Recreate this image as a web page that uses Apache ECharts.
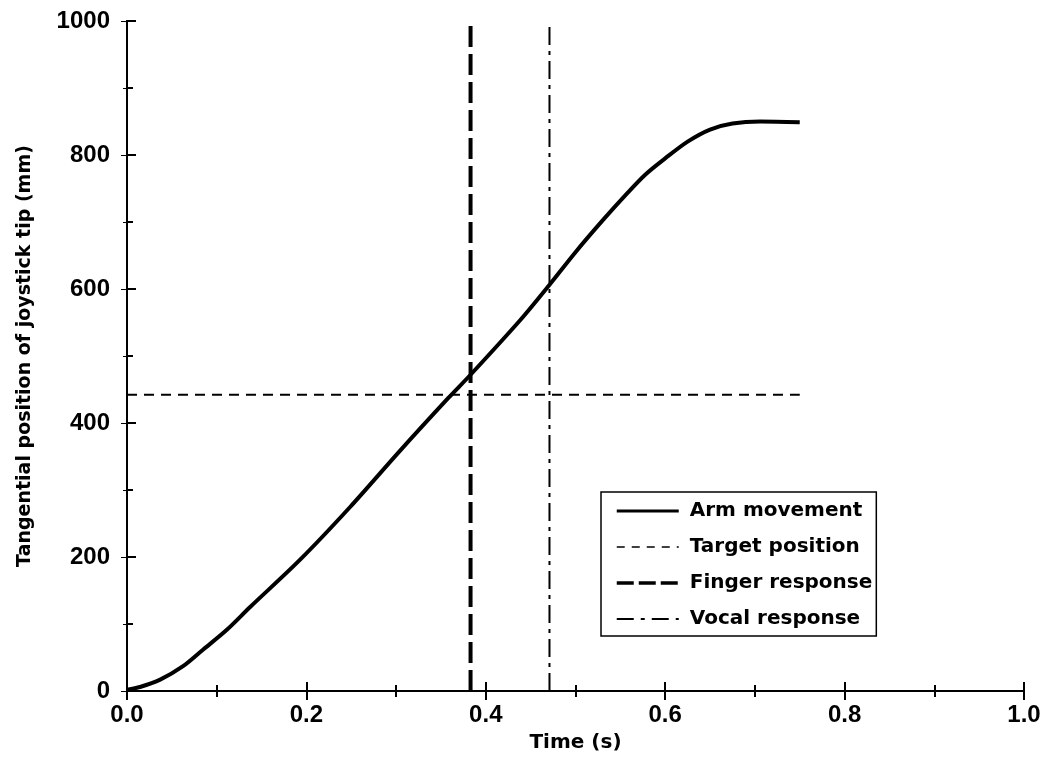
<!DOCTYPE html>
<html>
<head>
<meta charset="utf-8">
<script src="https://cdn.jsdelivr.net/npm/echarts@6/dist/echarts.min.js"></script>
<style>
  html, body { margin: 0; padding: 0; background: #ffffff; }
  #chart { width: 1047px; height: 758px; }
</style>
</head>
<body>
<div id="chart"></div>
<script>
// ---- data ----
const armTime = [0, 0.0145, 0.037, 0.0625, 0.085, 0.111, 0.137, 0.193, 0.249, 0.304, 0.358, 0.383, 0.438, 0.469, 0.50, 0.53, 0.557, 0.578, 0.60, 0.625, 0.65, 0.675, 0.706, 0.75];
const armPos  = [2, 6, 17, 37, 62, 91, 125, 196, 275, 358, 437, 472, 553, 603, 655, 702, 742, 771, 795, 820, 838, 847, 850, 849];
const targetTime = [0, 0.75];
const targetPos  = [442, 442];
const fingerTime = 0.383;
const vocalTime  = 0.471;
const lineSpan   = [0, 1000];
const xTickLabels = ['0.0', '0.2', '0.4', '0.6', '0.8', '1.0'];
const yTickLabels = ['0', '200', '400', '600', '800', '1000'];
const seriesNames = ['Arm movement', 'Target position', 'Finger response', 'Vocal response'];

const armData = armTime.map((t, i) => [t, armPos[i]]);
const targetData = targetTime.map((t, i) => [t, targetPos[i]]);
const fingerData = lineSpan.map(v => [fingerTime, v]);
const vocalData = lineSpan.map(v => [vocalTime, v]);

const tickFont = { fontFamily: 'Liberation Sans', fontWeight: 'bold', fontSize: 24, color: '#000' };
const titleFont = { fontFamily: 'DejaVu Sans', fontWeight: 'bold', color: '#000' };

const axisLineStyle = { show: true, lineStyle: { color: '#000', width: 2 } };
const hiddenSymbol = { color: 'rgba(0,0,0,0)', borderWidth: 0, opacity: 0 };

const chart = echarts.init(document.getElementById('chart'), null, { renderer: 'canvas' });
chart.setOption({
  animation: false,
  backgroundColor: '#ffffff',
  grid: { left: 127, right: 23, top: 21, bottom: 67, containLabel: false, outerBoundsMode: 'none' },
  legend: {
    orient: 'vertical',
    left: 601,
    top: 492,
    padding: [9, 4, 7, 14],
    itemWidth: 62,
    itemHeight: 14,
    itemGap: 16,
    borderColor: '#000',
    borderWidth: 1.5,
    borderRadius: 0,
    backgroundColor: '#fff',
    itemStyle: hiddenSymbol,
    textStyle: { fontFamily: 'DejaVu Sans', fontWeight: 'bold', fontSize: 20, color: '#000', padding: [0, 0, 0, 6] },
    data: [
      { name: seriesNames[0], itemStyle: hiddenSymbol, lineStyle: { width: 3, type: 'solid' } },
      { name: seriesNames[1], itemStyle: hiddenSymbol, lineStyle: { width: 1.5, type: [8, 7] } },
      { name: seriesNames[2], itemStyle: hiddenSymbol, lineStyle: { width: 3.5, type: [17, 5] } },
      { name: seriesNames[3], itemStyle: hiddenSymbol, lineStyle: { width: 1.8, type: [17, 7, 4, 7] } }
    ]
  },
  xAxis: [{
    type: 'value',
    min: 0, max: 1, interval: 0.2,
    position: 'bottom',
    name: 'Time (s)',
    nameLocation: 'middle',
    nameGap: 42,
    nameTextStyle: Object.assign({ fontSize: 20 }, titleFont),
    axisLine: axisLineStyle,
    axisTick: { show: true, inside: true, length: 9, lineStyle: { color: '#000', width: 2 } },
    minorTick: { show: true, splitNumber: 2, length: 6, lineStyle: { color: '#000', width: 2 } },
    splitLine: { show: false },
    axisLabel: Object.assign({ margin: 12, formatter: (v) => xTickLabels[Math.round(v / 0.2)] }, tickFont)
  }, {
    type: 'value',
    min: 0, max: 1, interval: 0.2,
    position: 'top',
    axisLine: axisLineStyle,
    axisTick: { show: true, inside: true, length: 9, lineStyle: { color: '#000', width: 2 } },
    minorTick: { show: true, splitNumber: 2, length: 6, lineStyle: { color: '#000', width: 2 } },
    splitLine: { show: false },
    axisLabel: { show: false }
  }],
  yAxis: [{
    type: 'value',
    min: 0, max: 1000, interval: 200,
    position: 'left',
    name: 'Tangential position of joystick tip (mm)',
    nameLocation: 'middle',
    nameGap: 92,
    nameTextStyle: Object.assign({ fontSize: 19 }, titleFont),
    axisLine: axisLineStyle,
    axisTick: { show: true, inside: true, length: 9, lineStyle: { color: '#000', width: 2 } },
    minorTick: { show: true, splitNumber: 2, length: 6, lineStyle: { color: '#000', width: 2 } },
    splitLine: { show: false },
    axisLabel: Object.assign({ margin: 17, formatter: (v) => yTickLabels[Math.round(v / 200)] }, tickFont)
  }, {
    type: 'value',
    min: 0, max: 1000, interval: 200,
    position: 'right',
    axisLine: axisLineStyle,
    axisTick: { show: true, inside: true, length: 6, lineStyle: { color: '#000', width: 1 } },
    minorTick: { show: true, splitNumber: 2, length: 4, lineStyle: { color: '#000', width: 1 } },
    splitLine: { show: false },
    axisLabel: { show: false }
  }],
  series: [
    {
      name: seriesNames[0], type: 'line', data: armData,
      xAxisIndex: 0, yAxisIndex: 0,
      symbol: 'none', smooth: 0.3,
      lineStyle: { color: '#000', width: 4 },
      itemStyle: { color: '#000' }, z: 5
    },
    {
      name: seriesNames[1], type: 'line', data: targetData,
      symbol: 'none',
      lineStyle: { color: '#000', width: 2, type: [10, 7] },
      itemStyle: { color: '#000' }
    },
    {
      name: seriesNames[2], type: 'line', data: fingerData,
      symbol: 'none',
      lineStyle: { color: '#000', width: 4, type: [21, 7] },
      itemStyle: { color: '#000' }
    },
    {
      name: seriesNames[3], type: 'line', data: vocalData,
      symbol: 'none',
      lineStyle: { color: '#000', width: 2, type: [18, 6, 4, 6] },
      itemStyle: { color: '#000' }
    }
  ]
});
</script>
</body>
</html>
